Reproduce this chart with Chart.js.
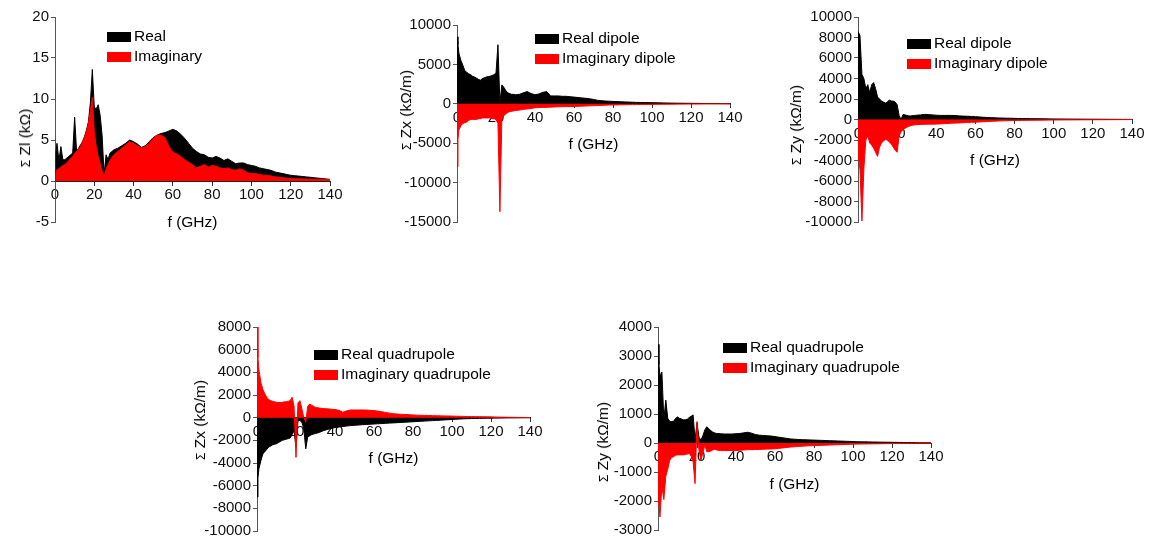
<!DOCTYPE html>
<html>
<head>
<meta charset="utf-8">
<script src="https://cdn.jsdelivr.net/npm/chart.js@4.4.0/dist/chart.umd.min.js"></script>
<style>
    body {
        margin: 0;
        width: 1153px;
        height: 546px;
        background: #fff;
        position: relative;
        overflow: hidden;
        font-family: "Liberation Sans", Arial, sans-serif;
        color: #000;
    }
    canvas { position: absolute; }
    .ytitle {
        position: absolute;
        transform: translate(-50%, -50%) rotate(-90deg);
        white-space: nowrap;
        font-size: 15.5px;
    }
    .ytitle .sig { font-size: 12px; }
    .lg { position: absolute; font-size: 15.5px; }
    .lg .row { height: 20px; line-height: 20px; white-space: nowrap; }
    .lg .sw {
        display: inline-block;
        width: 24px;
        height: 10px;
        margin-right: 3px;
        vertical-align: -1px;
    }
</style>
</head>
<body>

<canvas id="c1"></canvas>
<canvas id="c2"></canvas>
<canvas id="c3"></canvas>
<canvas id="c4"></canvas>
<canvas id="c5"></canvas>

<!-- y axis titles -->
<div class="ytitle" style="left:25px;top:138px"><span class="sig">Σ</span> Zl (kΩ)</div>
<div class="ytitle" style="left:406px;top:110px"><span class="sig">Σ</span> Zx (kΩ/m)</div>
<div class="ytitle" style="left:796px;top:125px"><span class="sig">Σ</span> Zy (kΩ/m)</div>
<div class="ytitle" style="left:200px;top:420px"><span class="sig">Σ</span> Zx (kΩ/m)</div>
<div class="ytitle" style="left:603px;top:442px"><span class="sig">Σ</span> Zy (kΩ/m)</div>

<!-- legends -->
<div class="lg" style="left:107px;top:26px">
    <div class="row"><span class="sw" style="background:#000"></span>Real</div>
    <div class="row"><span class="sw" style="background:#f00"></span>Imaginary</div>
</div>
<div class="lg" style="left:535px;top:28px">
    <div class="row"><span class="sw" style="background:#000"></span>Real dipole</div>
    <div class="row"><span class="sw" style="background:#f00"></span>Imaginary dipole</div>
</div>
<div class="lg" style="left:907px;top:33px">
    <div class="row"><span class="sw" style="background:#000"></span>Real dipole</div>
    <div class="row"><span class="sw" style="background:#f00"></span>Imaginary dipole</div>
</div>
<div class="lg" style="left:314px;top:344px">
    <div class="row"><span class="sw" style="background:#000"></span>Real quadrupole</div>
    <div class="row"><span class="sw" style="background:#f00"></span>Imaginary quadrupole</div>
</div>
<div class="lg" style="left:723px;top:337px">
    <div class="row"><span class="sw" style="background:#000"></span>Real quadrupole</div>
    <div class="row"><span class="sw" style="background:#f00"></span>Imaginary quadrupole</div>
</div>

<script>
// Frequency grid (GHz), shared by all panels
const freq = [0, 0.5, 1, 2, 3, 4, 5, 6, 7, 8, 9, 10,
    11, 12, 13, 14, 15, 16, 17, 18, 19, 20,
    21, 22, 23, 24, 25, 26, 27, 28, 29, 30,
    32, 34, 36, 38, 40, 42, 44, 46, 48, 50,
    52, 54, 56, 58, 60, 62, 64, 66, 68, 70,
    72, 74, 76, 78, 80, 82, 84, 86, 88, 90,
    92, 94, 96, 98, 100, 102, 104, 106, 108, 110,
    112, 114, 116, 118, 120, 122, 124, 126, 128, 130,
    132, 134, 136, 138, 140];

// Longitudinal (kOhm)
const zlReal = [0, 3.5, 4.6, 2.5, 4.2, 2.6, 2.6, 2.8, 3.0, 3.2, 3.4, 7.8,
    3.6, 4.0, 4.4, 4.8, 5.4, 6.2, 7.2, 9.5, 13.6, 9.0,
    8.8, 9.3, 8.0, 5.5, 0.8, 3.2, 2.6, 3.4, 3.6, 3.8,
    4.0, 4.3, 4.6, 5.0, 4.8, 4.5, 4.1, 4.3, 4.8, 5.3,
    5.6, 5.8, 5.9, 6.1, 6.3, 6.1, 5.7, 5.2, 4.6, 4.0,
    3.6, 3.3, 3.2, 2.9, 2.8, 3.0, 2.8, 2.5, 2.7, 2.4,
    2.1, 2.2, 2.2, 2.0, 1.9, 1.8, 1.6, 1.5, 1.4, 1.3,
    1.1, 1.0, 0.9, 0.8, 0.7, 0.65, 0.6, 0.55, 0.5, 0.45,
    0.4, 0.35, 0.3, 0.25, 0.2];
const zlImag = [0, 1.0, 1.4, 1.5, 1.7, 1.9, 2.0, 2.2, 2.5, 2.8, 3.0, 3.4,
    3.6, 3.9, 4.2, 4.8, 5.4, 6.0, 7.0, 8.5, 10.2, 6.0,
    4.2, 3.0, 2.1, 1.2, 0.6, 1.5, 2.0, 2.5, 2.9, 3.2,
    3.6, 4.0, 4.4, 4.8, 4.6, 4.3, 4.0, 4.2, 4.6, 5.2,
    5.6, 5.6, 5.3, 4.2, 3.5, 3.3, 3.0, 2.6, 2.3, 2.0,
    1.6, 1.8, 2.0, 1.7, 1.9, 1.8, 1.6, 1.5, 1.6, 1.4,
    1.3, 1.5, 1.3, 1.0, 0.9, 0.9, 0.8, 0.7, 0.7, 0.6,
    0.5, 0.45, 0.4, 0.35, 0.3, 0.3, 0.28, 0.26, 0.25, 0.24,
    0.22, 0.21, 0.2, 0.19, 0.18];

// Horizontal dipole (kOhm/m)
const zxDipReal = [8500, 7500, 6400, 5500, 4900, 4200, 4000, 3800, 3700, 3500, 3400, 3250,
    3100, 3000, 3200, 3300, 3400, 3450, 3500, 3600, 3700, 3900,
    7500, 100, 2400, 2100, 1700, 1400, 1300, 1200, 1200, 1150,
    1200, 1400, 1550, 1300, 1150, 1250, 1450, 1550, 1000, 1000,
    1000, 950, 950, 900, 850, 800, 750, 700, 650, 550,
    450, 400, 350, 330, 300, 280, 260, 240, 220, 200,
    180, 170, 160, 150, 140, 130, 120, 110, 100, 90,
    80, 75, 70, 65, 60, 55, 50, 45, 40, 35,
    30, 25, 20, 15, 10];
const zxDipImag = [-8000, -4500, -3300, -2800, -2500, -2400, -2300, -2100, -2000, -2000, -2000, -2000,
    -1900, -1900, -1800, -1800, -1800, -1800, -1800, -1900, -1900, -2000,
    -2500, -13700, -2000, -1500, -1300, -1100, -1000, -950, -900, -850,
    -800, -700, -650, -600, -500, -480, -460, -450, -430, -400,
    -380, -370, -360, -350, -340, -320, -300, -280, -260, -240,
    -220, -200, -180, -160, -150, -140, -130, -120, -110, -100,
    -95, -90, -85, -80, -75, -70, -65, -60, -55, -50,
    -45, -40, -38, -35, -32, -30, -28, -25, -22, -20,
    -18, -15, -12, -10, -8];

// Vertical dipole (kOhm/m)
const zyDipReal = [8600, 8600, 8200, 4400, 4000, 3000, 3400, 2600, 3400, 3600, 3000, 2200,
    2000, 1800, 1700, 1600, 1700, 1900, 1800, 1800, 1700, 1450,
    400, 0, 500, 450, 400, 350, 350, 380, 400, 420,
    450, 500, 480, 450, 420, 400, 400, 400, 400, 380,
    350, 330, 320, 300, 280, 250, 220, 200, 180, 160,
    150, 140, 130, 120, 110, 100, 95, 90, 85, 80,
    75, 70, 65, 60, 55, 50, 48, 45, 42, 40,
    38, 35, 32, 30, 28, 26, 24, 22, 20, 18,
    16, 14, 12, 10, 8];
const zyDipImag = [-3300, -4000, -4900, -9900, -4800, -2000, -1600, -2300, -2500, -2800, -3200, -3600,
    -2700, -2300, -2100, -1950, -2000, -2200, -2400, -2700, -3000, -3200,
    -1600, -1200, -1000, -850, -750, -650, -600, -550, -520, -500,
    -480, -470, -460, -460, -450, -430, -400, -380, -360, -350,
    -330, -310, -290, -270, -260, -240, -220, -200, -180, -160,
    -140, -130, -120, -110, -100, -95, -90, -85, -80, -75,
    -70, -65, -60, -55, -50, -48, -45, -42, -40, -38,
    -35, -32, -30, -28, -26, -24, -22, -20, -18, -16,
    -14, -12, -10, -8, -6];

// Horizontal quadrupole (kOhm/m)
const zxQuadReal = [-7000, -5300, -4500, -3800, -3200, -3000, -2800, -2600, -2500, -2400, -2350, -2300,
    -2200, -2100, -2000, -1950, -1900, -1850, -1800, -1500, -1150, -2600,
    -300, -250, -400, -1000, -2750, -1700, -1600, -1500, -1450, -1400,
    -1300, -1150, -1050, -950, -870, -820, -780, -740, -700, -680,
    -650, -620, -600, -580, -560, -540, -520, -500, -480, -460,
    -440, -420, -400, -380, -360, -340, -320, -300, -280, -260,
    -240, -220, -200, -180, -160, -140, -120, -100, -90, -80,
    -70, -60, -55, -50, -45, -40, -35, -30, -25, -20,
    -18, -15, -12, -10, -8];
const zxQuadImag = [8000, 5300, 4200, 3100, 2500, 2100, 1800, 1600, 1500, 1450, 1400, 1350,
    1350, 1350, 1350, 1400, 1400, 1450, 1500, 1800, 1000, -3500,
    1300, 1500, 800, 0, -400, 1000, 1200, 1100, 1000, 900,
    850, 800, 780, 750, 720, 650, 480, 600, 680, 680,
    680, 680, 670, 650, 620, 580, 520, 460, 400, 350,
    320, 300, 280, 260, 240, 220, 210, 200, 190, 180,
    170, 160, 155, 150, 140, 130, 120, 110, 100, 95,
    90, 85, 80, 75, 70, 60, 50, 45, 40, 35,
    30, 25, 20, 15, 10];

// Vertical quadrupole (kOhm/m)
const zyQuadReal = [3400, 2700, 2300, 2450, 800, 1480, 850, 750, 740, 750, 850, 900,
    850, 830, 800, 800, 820, 880, 920, 970, 100, 700,
    200, 100, 250, 450, 560, 500, 430, 380, 350, 330,
    320, 310, 310, 310, 320, 330, 350, 370, 340, 290,
    270, 260, 250, 240, 220, 200, 180, 160, 140, 130,
    120, 115, 110, 105, 100, 95, 90, 85, 80, 75,
    70, 65, 60, 55, 50, 45, 42, 40, 38, 35,
    32, 30, 28, 26, 24, 22, 20, 18, 16, 14,
    12, 10, 9, 8, 6];
const zyQuadImag = [-1750, -2100, -2550, -1500, -1950, -1150, -900, -600, -500, -470, -420, -410,
    -410, -410, -410, -400, -380, -360, -450, -650, -1400, 740,
    -250, -600, -350, -70, -300, -300, -280, -240, -220, -240,
    -260, -260, -260, -260, -260, -250, -240, -230, -230, -225,
    -220, -215, -210, -205, -200, -185, -170, -155, -140, -130,
    -120, -110, -100, -95, -90, -85, -80, -75, -70, -65,
    -60, -55, -50, -45, -40, -38, -36, -34, -32, -30,
    -28, -26, -24, -22, -20, -18, -16, -14, -12, -10,
    -9, -8, -7, -6, -5];

// Axis ranges [min, max, step]
const xRange = [0, 140, 20];
const yRange1 = [-5, 20, 5];
const yRange2 = [-15000, 10000, 5000];
const yRange3 = [-10000, 10000, 2000];
const yRange4 = [-10000, 8000, 2000];
const yRange5 = [-3000, 4000, 1000];

// Plot boxes on the page: left, right, top, bottom of the data area, y-axis width
const panels = [
    { id: 'c1', re: zlReal, im: zlImag, yr: yRange1, box: [55, 330, 17, 222], yw: 50 },
    { id: 'c2', re: zxDipReal, im: zxDipImag, yr: yRange2, box: [457, 730, 25, 222], yw: 60 },
    { id: 'c3', re: zyDipReal, im: zyDipImag, yr: yRange3, box: [858, 1132, 17, 222], yw: 60 },
    { id: 'c4', re: zxQuadReal, im: zxQuadImag, yr: yRange4, box: [257, 530, 327, 531], yw: 60 },
    { id: 'c5', re: zyQuadReal, im: zyQuadImag, yr: yRange5, box: [658, 931, 327, 530], yw: 60 }
];

const PAD_T = 12, PAD_R = 20, PAD_B = 12;
const tickFont = { family: '"Liberation Sans", Arial, sans-serif', size: 15 };

function points(vals) {
    return freq.map((f, i) => ({ x: f, y: vals[i] }));
}

function makePanel(p) {
    const [L, R, T, B] = p.box;
    const canvas = document.getElementById(p.id);
    canvas.width = (R - L) + p.yw + PAD_R;
    canvas.height = (B - T) + PAD_T + PAD_B;
    canvas.style.left = (L - p.yw) + 'px';
    canvas.style.top = (T - PAD_T) + 'px';

    new Chart(canvas, {
        type: 'line',
        data: {
            datasets: [
                {
                    label: 'Real',
                    data: points(p.re),
                    borderColor: '#000',
                    backgroundColor: '#000',
                    fill: 'origin',
                    order: 1
                },
                {
                    label: 'Imaginary',
                    data: points(p.im),
                    borderColor: '#ff0000',
                    backgroundColor: '#ff0000',
                    fill: 'origin',
                    order: 0
                }
            ]
        },
        options: {
            responsive: false,
            animation: false,
            layout: { padding: { left: 0, top: PAD_T, right: PAD_R, bottom: PAD_B } },
            elements: {
                point: { radius: 0 },
                line: { borderWidth: 1, tension: 0 }
            },
            plugins: {
                legend: { display: false },
                tooltip: { enabled: false }
            },
            scales: {
                x: {
                    type: 'linear',
                    position: { y: 0 },
                    min: xRange[0],
                    max: xRange[1],
                    ticks: {
                        stepSize: xRange[2],
                        autoSkip: false,
                        maxRotation: 0,
                        padding: 1,
                        color: '#111',
                        font: tickFont,
                        callback: v => String(v)
                    },
                    grid: { drawOnChartArea: false, tickLength: 4, color: '#333' },
                    border: { color: '#222', width: 1 },
                    title: {
                        display: true,
                        text: 'f (GHz)',
                        color: '#000',
                        font: { family: tickFont.family, size: 15.5 },
                        padding: { top: 8, bottom: 0 }
                    }
                },
                y: {
                    type: 'linear',
                    position: 'left',
                    min: p.yr[0],
                    max: p.yr[1],
                    ticks: {
                        stepSize: p.yr[2],
                        autoSkip: false,
                        padding: 2,
                        color: '#111',
                        font: tickFont,
                        callback: v => String(v)
                    },
                    grid: { drawOnChartArea: false, tickLength: 4, color: '#555' },
                    border: { color: '#555', width: 1 },
                    afterFit: scale => { scale.width = p.yw; }
                }
            }
        }
    });
}

panels.forEach(makePanel);
</script>
</body>
</html>
